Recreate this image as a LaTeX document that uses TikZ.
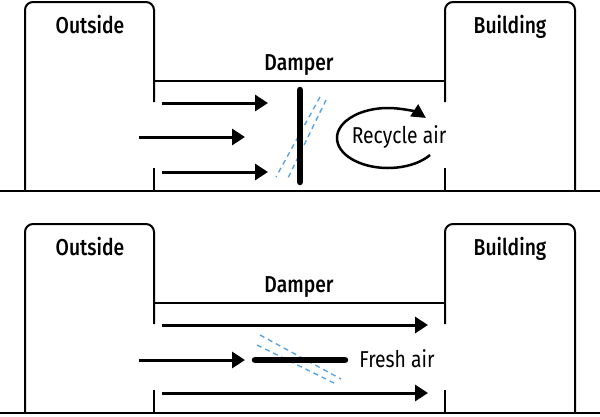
\documentclass[tikz,border=0pt]{standalone}
\usepackage{fontspec}
\setmainfont{Fira Sans Medium}[FakeStretch=0.84]
\newfontfamily\airfont{Fira Sans}[FakeStretch=0.84]
\usepackage{tikz}
\usetikzlibrary{arrows.meta}

\definecolor{airblue}{RGB}{90,165,225}

\begin{document}
\begin{tikzpicture}[x=1pt, y=-1pt,
        wall/.style={line width=2pt, rounded corners=8pt},
        flow/.style={-{Triangle[length=13pt,width=16pt]}, line width=3pt},
        blade/.style={line width=6.5pt, line cap=round},
        ghost/.style={draw=airblue, line width=1.4pt, dash pattern=on 5pt off 4pt},
        swirl/.style={-{Triangle[length=14pt,width=14pt]}, line width=2.5pt},
        lbl/.style={font=\fontsize{23}{26}\selectfont, inner sep=0pt, anchor=base},
        airlbl/.style={lbl, font=\airfont\fontsize{23}{26}\selectfont},
    ]
    \useasboundingbox (0,0) rectangle (600,416);
    % the two duct frames
    \foreach \oy/\nm in {0/top, 222/bot} {
        \begin{scope}[shift={(0,\oy)}]
            \draw[wall] (25,191) -- (25,2) -- (154,2) -- (154,102);
            \draw[wall] (154,168) -- (154,191);
            \draw[wall] (154,81) -- (445,81);
            \draw[wall] (445,102) -- (445,2) -- (575,2) -- (575,191);
            \draw[wall] (445,168) -- (445,191);
            \draw[wall] (0,191) -- (600,191);
            \node[lbl] (outside-\nm) at (90,33) {Outside};
            \node[lbl] (building-\nm) at (510,33) {Building};
            \node[lbl] (damper-\nm) at (299,70) {Damper};
        \end{scope}
    }
    % damper closed: recycle air
    \draw[flow] (162,103) -- (268,103);
    \draw[flow] (139,137) -- (245,137);
    \draw[flow] (162,172) -- (268,172);
    \draw[ghost] (320,97) -- (276,177);
    \draw[ghost] (326,100) -- (287,180);
    \draw[blade] (300,90) -- (300,182);
    \coordinate (loop) at (388,138);
    \draw[swirl] (loop) ++(34.5:51 and 30) arc[start angle=34.5, end angle=318, x radius=51, y radius=30];
    \node[airlbl] (recycle) at (399,143) {Recycle air};
    % damper open: fresh air
    \draw[flow] (162,325) -- (428,325);
    \draw[flow] (139,360) -- (245,360);
    \draw[flow] (162,393) -- (428,393);
    \draw[ghost] (260,335) -- (341,379);
    \draw[ghost] (257,345) -- (336,384);
    \draw[blade] (255,360) -- (345,360);
    \node[airlbl] (fresh) at (397,367) {Fresh air};
\end{tikzpicture}
\end{document}
